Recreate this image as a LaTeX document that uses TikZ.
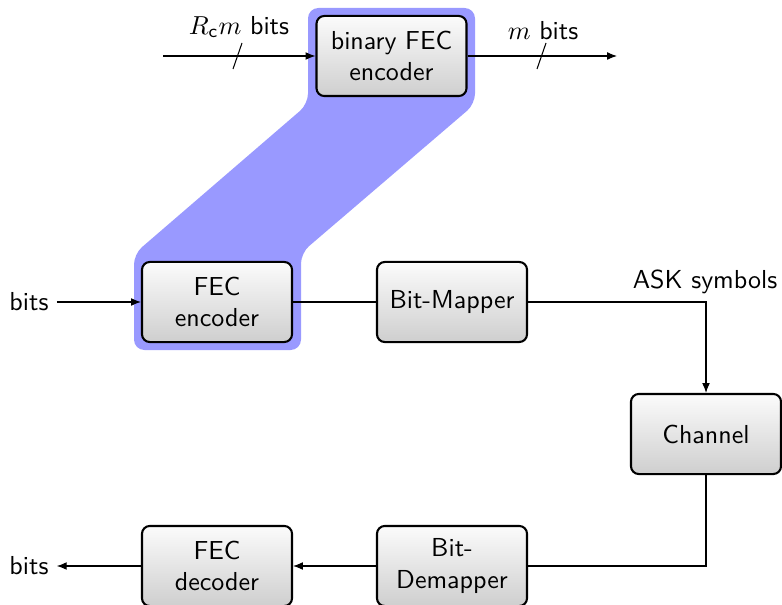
\documentclass[tikz,border=0pt]{standalone}
\usetikzlibrary{arrows.meta}
\begin{document}
\begin{tikzpicture}[x=0.3846pt,y=-0.3846pt,font=\sffamily,
  block/.style={draw=black,thick,rounded corners=3pt,top color=gray!3,bottom color=gray!38,
    minimum width=57.7pt,minimum height=30.8pt,align=center,inner sep=2pt},
  arr/.style={-{Latex[length=3.8pt,width=3pt]}},
  plain/.style={inner sep=3pt}]
\useasboundingbox (0,0) rectangle (782,605);

% highlighted path linking the two encoders
\fill[blue!40,rounded corners=4pt] (308,8) -- (475,8) -- (475,104) -- (301,253)
  -- (301,350) -- (134,350) -- (134,254) -- (308,104) -- cycle;

% blocks
\node[block] (bfec)   at (391.5,56) {binary FEC\\encoder};
\node[block] (fecenc) at (217,302)  {FEC\\encoder};
\node[block] (bmap)   at (452,302)  {Bit-Mapper};
\node[block] (chan)   at (706,434)  {Channel};
\node[block] (bdemap) at (452,566)  {Bit-\\Demapper};
\node[block] (fecdec) at (217,566)  {FEC\\decoder};

% end labels
\node[plain] (bitsin)  at (29,302) {bits};
\node[plain] (bitsout) at (29,566) {bits};
\coordinate (tin)  at (163,56);
\coordinate (tout) at (617,56);

% top chain
\draw[arr] (tin) -- (bfec);
\draw[arr] (bfec) -- (tout);
\draw (233,69) -- (242,43);
\draw (537,69) -- (546,43);
\node at (239,27) {$R_{\mathsf{c}}m$ bits};
\node at (543,31) {$m$ bits};

% transmitter / channel / receiver chain
\draw[arr] (bitsin) -- (fecenc);
\draw (fecenc) -- (bmap);
\draw[arr] (bmap.east) -| (chan.north);
\node at (705,282) {ASK symbols};
\draw (chan.south) |- (bdemap.east);
\draw[arr] (bdemap) -- (fecdec);
\draw[arr] (fecdec) -- (bitsout);
\end{tikzpicture}
\end{document}
